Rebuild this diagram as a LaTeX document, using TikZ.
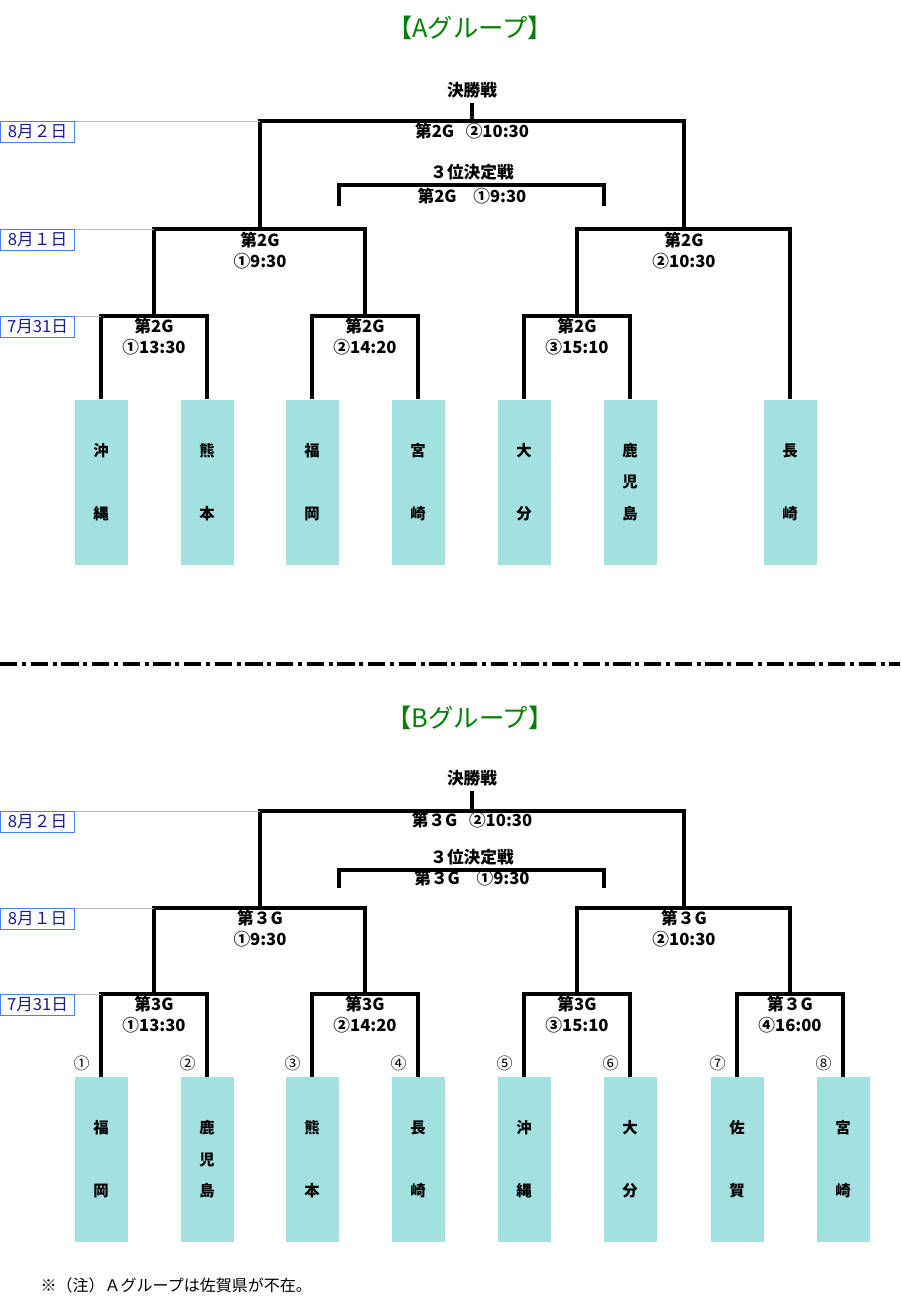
\documentclass[tikz,border=0pt]{standalone}
\usepackage{fontspec}
\usepackage{xcolor}
\setmainfont{Noto Sans CJK JP}
\usetikzlibrary{positioning,calc}

\definecolor{teamcol}{HTML}{A3E1E1}
\definecolor{titlecol}{HTML}{008000}
\definecolor{datetext}{HTML}{1C1C8F}
\definecolor{dateline}{HTML}{4A7DFF}

\tikzset{
    teambox/.style={fill=teamcol, minimum width=39.75pt, minimum height=123.75pt, inner sep=0pt,
        align=center, font=\bfseries\fontsize{11.5}{23.6}\selectfont},
    grouptitle/.style={text=titlecol, font=\fontsize{19}{22}\selectfont},
    datebox/.style={draw=dateline, line width=0.9pt, text=datetext, anchor=north west,
        minimum width=55.5pt, minimum height=15.5pt, inner sep=0pt, font=\fontsize{12.5}{14}\selectfont},
    bracket/.style={line width=2.5pt},
    guide/.style={draw=gray!55, line width=0.75pt},
    matchlbl/.style={align=center, font=\bfseries\fontsize{12.5}{15.75}\selectfont},
    seednum/.style={font=\fontsize{12}{13}\selectfont},
}

\begin{document}
\begin{tikzpicture}[x=0.75pt, y=-0.75pt]
    \useasboundingbox (0,0) rectangle (900,1306);

    % ---------------- A group ----------------
    \node[grouptitle] (titleA) at (470,28) {【Aグループ】};

    % Teams
    \foreach \x/\t/\nm in {101/{沖\\[23.6pt]縄}/tA1, 207/{熊\\[23.6pt]本}/tA2, 312/{福\\[23.6pt]岡}/tA3,
        418/{宮\\[23.6pt]崎}/tA4, 524/{大\\[23.6pt]分}/tA5, 630/{鹿\\児\\島}/tA6, 790/{長\\[23.6pt]崎}/tA7}
        \node[teambox] (\nm) at (\x,482) {\t};

    % Match points
    \coordinate (mA1) at (154,316);
    \coordinate (mA2) at (365,316);
    \coordinate (mA3) at (577,316);
    \coordinate (sA1) at (260,229);
    \coordinate (sA2) at (684,229);
    \coordinate (fA) at (472,121);
    \coordinate (tpA) at (472,185);
    \coordinate (tpA1) at (339,206);
    \coordinate (tpA2) at (604,206);

    \draw[bracket] (tA1.north) |- (mA1) -| (tA2.north);
    \draw[bracket] (tA3.north) |- (mA2) -| (tA4.north);
    \draw[bracket] (tA5.north) |- (mA3) -| (tA6.north);
    \draw[bracket] (mA1) |- (sA1) -| (mA2);
    \draw[bracket] (mA3) |- (sA2) -| (tA7.north);
    \draw[bracket] (sA1) |- (fA) -| (sA2);
    \draw[bracket] (tpA1) |- (tpA) -| (tpA2);

    \node[matchlbl] (finA) at (472,90) {決勝戦};
    \draw[bracket] (fA) -- (finA.south);
    \node[matchlbl] (lfA) at (472,131) {第2G\hspace{0.7em}②10:30};
    \node[matchlbl] (thirdA) at (472,172) {３位決定戦};
    \node[matchlbl] (ltA) at (472,196) {第2G\hspace{1em}①9:30};
    \node[matchlbl] (ls1A) at (260,250.5) {第2G\\①9:30};
    \node[matchlbl] (ls2A) at (684,250.5) {第2G\\②10:30};
    \node[matchlbl] (lq1A) at (154,337) {第2G\\①13:30};
    \node[matchlbl] (lq2A) at (365,337) {第2G\\②14:20};
    \node[matchlbl] (lq3A) at (577,337) {第2G\\③15:10};

    % Dates
    \node[datebox] (dA1) at (0,121) {8月２日};
    \node[datebox] (dA2) at (0,229) {8月１日};
    \node[datebox] (dA3) at (0,316) {7月31日};
    \draw[guide] (dA1.north east) -- (sA1 |- fA);
    \draw[guide] (dA2.north east) -- (mA1 |- sA1);
    \draw[guide] (dA3.north east) -- (tA1.north |- mA1);

    % separator
    \coordinate (sepL) at (0,664);
    \coordinate (sepR) at (900,664);
    \draw[line width=2.5pt, dash pattern=on 13pt off 3.5pt on 3pt off 3.5pt] (sepL) -- (sepR);

    % ---------------- B group ----------------
    \node[grouptitle] (titleB) at (470,718) {【Bグループ】};

    % Teams
    \foreach \x/\t/\nm/\n in {101/{福\\[23.6pt]岡}/tB1/①, 207/{鹿\\児\\島}/tB2/②, 312/{熊\\[23.6pt]本}/tB3/③,
        418/{長\\[23.6pt]崎}/tB4/④, 524/{沖\\[23.6pt]縄}/tB5/⑤, 630/{大\\[23.6pt]分}/tB6/⑥,
        737/{佐\\[23.6pt]賀}/tB7/⑦, 843/{宮\\[23.6pt]崎}/tB8/⑧} {
        \node[teambox] (\nm) at (\x,1159.5) {\t};
        \node[seednum, above left=0.5pt and 5pt of \nm.north] (n\nm) {\n};
    }

    % Match points
    \coordinate (mB1) at (154,994);
    \coordinate (mB2) at (365,994);
    \coordinate (mB3) at (577,994);
    \coordinate (mB4) at (790,994);
    \coordinate (sB1) at (260,908);
    \coordinate (sB2) at (684,908);
    \coordinate (fB) at (472,811);
    \coordinate (tpB) at (472,870);
    \coordinate (tpB1) at (339,888);
    \coordinate (tpB2) at (604,888);

    \draw[bracket] (tB1.north) |- (mB1) -| (tB2.north);
    \draw[bracket] (tB3.north) |- (mB2) -| (tB4.north);
    \draw[bracket] (tB5.north) |- (mB3) -| (tB6.north);
    \draw[bracket] (tB7.north) |- (mB4) -| (tB8.north);
    \draw[bracket] (mB1) |- (sB1) -| (mB2);
    \draw[bracket] (mB3) |- (sB2) -| (mB4);
    \draw[bracket] (sB1) |- (fB) -| (sB2);
    \draw[bracket] (tpB1) |- (tpB) -| (tpB2);

    \node[matchlbl] (finB) at (472,778) {決勝戦};
    \draw[bracket] (fB) -- (finB.south);
    \node[matchlbl] (lfB) at (472,820) {第３G\hspace{0.7em}②10:30};
    \node[matchlbl] (thirdB) at (472,857) {３位決定戦};
    \node[matchlbl] (ltB) at (472,878) {第３G\hspace{1em}①9:30};
    \node[matchlbl] (ls1B) at (260,928.5) {第３G\\①9:30};
    \node[matchlbl] (ls2B) at (684,928.5) {第３G\\②10:30};
    \node[matchlbl] (lq1B) at (154,1015) {第3G\\①13:30};
    \node[matchlbl] (lq2B) at (365,1015) {第3G\\②14:20};
    \node[matchlbl] (lq3B) at (577,1015) {第3G\\③15:10};
    \node[matchlbl] (lq4B) at (790,1015) {第３G\\④16:00};

    % Dates
    \node[datebox] (dB1) at (0,811) {8月２日};
    \node[datebox] (dB2) at (0,908) {8月１日};
    \node[datebox] (dB3) at (0,994) {7月31日};
    \draw[guide] (dB1.north east) -- (sB1 |- fB);
    \draw[guide] (dB2.north east) -- (mB1 |- sB1);
    \draw[guide] (dB3.north east) -- (tB1.north |- mB1);

    % note
    \node[anchor=west, font=\fontsize{12}{14}\selectfont] (note) at (36,1285) {※（注）Ａグループは佐賀県が不在。};
\end{tikzpicture}
\end{document}
